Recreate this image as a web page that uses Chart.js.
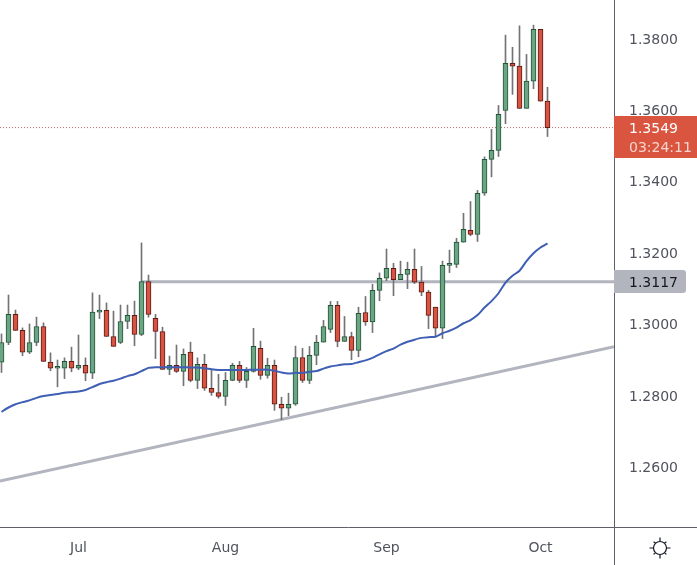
<!DOCTYPE html>
<html>
<head>
<meta charset="utf-8">
<script src="https://cdn.jsdelivr.net/npm/chart.js@4"></script>
<style>
body { margin: 0; background: #fff; }
canvas { display: block; }
</style>
</head>
<body>
<canvas id="myChart" width="697" height="565"></canvas>
<script>
const opens = [1.2892,1.2947,1.3026,1.2981,1.2920,1.2947,1.2992,1.2892,1.2875,1.2875,
  1.2894,1.2875,1.2883,1.2861,1.3032,1.3037,1.2964,1.2947,1.3006,1.3023,
  1.2970,1.3118,1.3015,1.2978,1.2872,1.2883,1.2866,1.2920,1.2841,1.2886,
  1.2819,1.2807,1.2796,1.2841,1.2883,1.2841,1.2866,1.2931,1.2855,1.2883,
  1.2774,1.2763,1.2774,1.2905,1.2841,1.2911,1.2948,1.2984,1.3051,1.2950,
  1.2964,1.2925,1.3031,1.3005,1.3093,1.3127,1.3155,1.3123,1.3138,1.3152,
  1.3116,1.3088,1.3046,1.2987,1.3163,1.3166,1.3228,1.3261,1.3250,1.3365,
  1.3460,1.3485,1.3597,1.3729,1.3721,1.3603,1.3679,1.3824,1.3623];
const highs = [1.2971,1.3080,1.3038,1.2988,1.2999,1.3018,1.3002,1.2918,1.2898,1.2904,
  1.2934,1.2968,1.2904,1.3086,1.3080,1.3058,1.3035,1.3052,1.3052,1.3063,
  1.3226,1.3136,1.3026,1.2990,1.2909,1.2940,1.2929,1.2948,1.2904,1.2914,
  1.2869,1.2858,1.2863,1.2889,1.2894,1.2877,1.2987,1.2951,1.2903,1.2898,
  1.2794,1.2805,1.2937,1.2931,1.2936,1.2967,1.3009,1.3062,1.3062,1.3020,
  1.2976,1.3046,1.3076,1.3110,1.3142,1.3209,1.3169,1.3175,1.3172,1.3209,
  1.3160,1.3093,1.3046,1.3175,1.3206,1.3239,1.3309,1.3342,1.3373,1.3467,
  1.3544,1.3611,1.3808,1.3774,1.3834,1.3754,1.3836,1.3824,1.3662];
const lows = [1.2863,1.2941,1.2981,1.2910,1.2916,1.2938,1.2894,1.2868,1.2823,1.2846,
  1.2865,1.2871,1.2840,1.2846,1.3014,1.2964,1.2936,1.2944,1.2986,1.2938,
  1.2966,1.3018,1.2902,1.2872,1.2857,1.2863,1.2826,1.2837,1.2818,1.2813,
  1.2799,1.2791,1.2771,1.2840,1.2835,1.2821,1.2864,1.2844,1.2847,1.2757,
  1.2731,1.2742,1.2771,1.2835,1.2832,1.2885,1.2948,1.2975,1.2935,1.2950,
  1.2899,1.2907,1.2995,1.2975,1.3064,1.3120,1.3078,1.3123,1.3098,1.3112,
  1.3078,1.2986,1.2965,1.2958,1.3143,1.3157,1.3228,1.3246,1.3230,1.3359,
  1.3411,1.3468,1.3560,1.3642,1.3603,1.3603,1.3658,1.3623,1.3524];
const closes = [1.2947,1.3026,1.2981,1.2920,1.2947,1.2992,1.2894,1.2875,1.2876,1.2894,
  1.2875,1.2883,1.2861,1.3032,1.3037,1.2964,1.2936,1.3006,1.3023,1.2970,
  1.3118,1.3026,1.2978,1.2872,1.2883,1.2866,1.2914,1.2841,1.2886,1.2819,
  1.2807,1.2796,1.2841,1.2883,1.2841,1.2866,1.2936,1.2855,1.2883,1.2774,
  1.2763,1.2774,1.2905,1.2841,1.2911,1.2948,1.2992,1.3051,1.2950,1.2964,
  1.2925,1.3029,1.3005,1.3093,1.3127,1.3155,1.3123,1.3138,1.3152,1.3116,
  1.3088,1.3023,1.2987,1.3163,1.3166,1.3228,1.3264,1.3250,1.3365,1.3460,
  1.3485,1.3586,1.3729,1.3721,1.3603,1.3679,1.3824,1.3623,1.3549];
const maValues = [1.2753,1.2765,1.2774,1.2780,1.2785,1.2792,1.2797,1.2800,1.2803,1.2806,
  1.2808,1.2810,1.2814,1.2822,1.2831,1.2836,1.2840,1.2846,1.2853,1.2858,
  1.2867,1.2876,1.2878,1.2878,1.2878,1.2878,1.2878,1.2877,1.2877,1.2875,
  1.2872,1.2870,1.2870,1.2870,1.2870,1.2870,1.2871,1.2871,1.2871,1.2868,
  1.2863,1.2860,1.2862,1.2862,1.2865,1.2867,1.2874,1.2880,1.2883,1.2886,
  1.2887,1.2892,1.2897,1.2904,1.2914,1.2923,1.2930,1.2941,1.2949,1.2955,
  1.2960,1.2962,1.2963,1.2973,1.2980,1.2989,1.3001,1.3010,1.3024,1.3045,
  1.3063,1.3085,1.3115,1.3134,1.3148,1.3175,1.3197,1.3213,1.3225];

const monthTicks = [11, 32, 55, 77];
const monthLabels = ['Jul', 'Aug', 'Sep', 'Oct'];
const priceTicks = [1.38, 1.36, 1.34, 1.32, 1.30, 1.28, 1.26];
const levelPrice = 1.3117;
const levelStart = 20;
const trendStart = 1.2559;
const trendEnd = 1.2935;
const countdown = '03:24:11';

const xMin = -0.2142857;
const xMax = 87.5;
const yMin = 1.24303;
const yMax = 1.39064;
const fontName = '"DejaVu Sans", sans-serif';
const textColor = '#50535e';
const lineColor = '#5d606b';
const lastPrice = closes[closes.length - 1];

const isUp = closes.map((c, i) => c >= opens[i]);

// price tags, axis frame and the sun button
const chrome = {
    id: 'chrome',
    afterDraw(chart) {
        const c = chart.ctx;
        const y = chart.scales.y;
        const right = chart.chartArea.right;
        const bottom = chart.chartArea.bottom;
        c.save();

        c.strokeStyle = lineColor;
        c.lineWidth = 1;
        c.beginPath();
        c.moveTo(right + 0.5, 0);
        c.lineTo(right + 0.5, 565);
        c.moveTo(0, bottom + 0.5);
        c.lineTo(697, bottom + 0.5);
        c.stroke();

        c.textBaseline = 'middle';
        c.textAlign = 'left';

        const lastY = Math.round(y.getPixelForValue(lastPrice));
        c.fillStyle = '#d9553f';
        c.fillRect(right, lastY - 12, 83, 42);
        c.font = '14px ' + fontName;
        c.fillStyle = '#ffffff';
        c.fillText(lastPrice.toFixed(4), right + 15, lastY + 1);
        c.fillStyle = '#f6d4ce';
        c.fillText(countdown, right + 15, lastY + 20);

        const levelY = Math.round(y.getPixelForValue(levelPrice));
        c.fillStyle = '#b2b5be';
        c.beginPath();
        c.roundRect(right, levelY - 12, 72, 23, [0, 3, 3, 0]);
        c.fill();
        c.fillStyle = '#131722';
        c.fillText(levelPrice.toFixed(4), right + 15, levelY + 1);

        // sun icon
        const sx = 660, sy = 548;
        c.strokeStyle = '#131722';
        c.lineWidth = 1.2;
        c.beginPath();
        c.arc(sx, sy, 6.5, 0, Math.PI * 2);
        [0, 90, 180, 270, 45, 135, 225, 315].forEach(function(d) {
            const a = d * Math.PI / 180;
            const r2 = d % 90 == 0 ? 10.5 : 9;
            c.moveTo(sx + Math.cos(a) * 6.5, sy + Math.sin(a) * 6.5);
            c.lineTo(sx + Math.cos(a) * r2, sy + Math.sin(a) * r2);
        });
        c.stroke();
        c.restore();
    }
};

function noPadding(axis) {
    axis.paddingLeft = 0;
    axis.paddingRight = 0;
    axis.paddingTop = 0;
    axis.paddingBottom = 0;
}

const ctx = document.getElementById('myChart').getContext('2d');
const myChart = new Chart(ctx, {
    type: 'bar',
    plugins: [chrome],
    data: {
        datasets: [
            {
                type: 'line',
                label: 'MA',
                data: maValues.map((v, i) => ({ x: i, y: v })),
                borderColor: '#3f5fb5',
                borderWidth: 2,
                pointRadius: 0,
                tension: 0.2,
                order: 0
            },
            {
                label: 'Body',
                data: opens.map((o, i) => ({ x: i, y: [o, closes[i]] })),
                backgroundColor: isUp.map(u => u ? '#6ba583' : '#d75442'),
                borderColor: isUp.map(u => u ? '#225437' : '#5b1a13'),
                borderWidth: 1,
                borderSkipped: false,
                barThickness: 5,
                minBarLength: 2,
                order: 1
            },
            {
                label: 'Wick',
                data: lows.map((l, i) => ({ x: i, y: [l, highs[i]] })),
                backgroundColor: '#737375',
                borderWidth: 0,
                barThickness: 1,
                order: 2
            },
            {
                type: 'line',
                label: 'Level',
                data: [{ x: levelStart, y: levelPrice }, { x: xMax, y: levelPrice }],
                borderColor: '#b2b5be',
                borderWidth: 3,
                pointRadius: 0,
                order: 3
            },
            {
                type: 'line',
                label: 'Trend',
                data: [{ x: xMin, y: trendStart }, { x: xMax, y: trendEnd }],
                borderColor: '#b2b5be',
                borderWidth: 3,
                pointRadius: 0,
                order: 3
            },
            {
                type: 'line',
                label: 'Last',
                data: [{ x: xMin, y: lastPrice }, { x: xMax, y: lastPrice }],
                borderColor: '#c0675a',
                borderWidth: 1,
                borderDash: [1, 2],
                pointRadius: 0,
                order: 4
            }
        ]
    },
    options: {
        responsive: false,
        animation: false,
        grouped: false,
        layout: { padding: 0 },
        plugins: { legend: { display: false }, tooltip: { enabled: false } },
        scales: {
            x: {
                type: 'linear',
                offset: false,
                min: xMin,
                max: xMax,
                grid: { display: false, drawTicks: false },
                border: { display: false },
                afterBuildTicks(axis) {
                    axis.ticks = monthTicks.map(v => ({ value: v }));
                },
                afterFit(axis) { axis.height = 38; noPadding(axis); },
                ticks: {
                    autoSkip: false,
                    maxRotation: 0,
                    padding: 13,
                    color: textColor,
                    font: { family: fontName, size: 14 },
                    callback: (v) => monthLabels[monthTicks.indexOf(v)]
                }
            },
            y: {
                position: 'right',
                min: yMin,
                max: yMax,
                grid: { display: false, drawTicks: false },
                border: { display: false },
                afterBuildTicks(axis) {
                    axis.ticks = priceTicks.map(v => ({ value: v }));
                },
                afterFit(axis) { axis.width = 83; noPadding(axis); },
                ticks: {
                    padding: 15,
                    color: textColor,
                    font: { family: fontName, size: 14, lineHeight: '4px' },
                    // empty first line nudges the label down to sit on the tick
                    callback: (v) => ['', v.toFixed(4)]
                }
            }
        }
    }
});
</script>
</body>
</html>
